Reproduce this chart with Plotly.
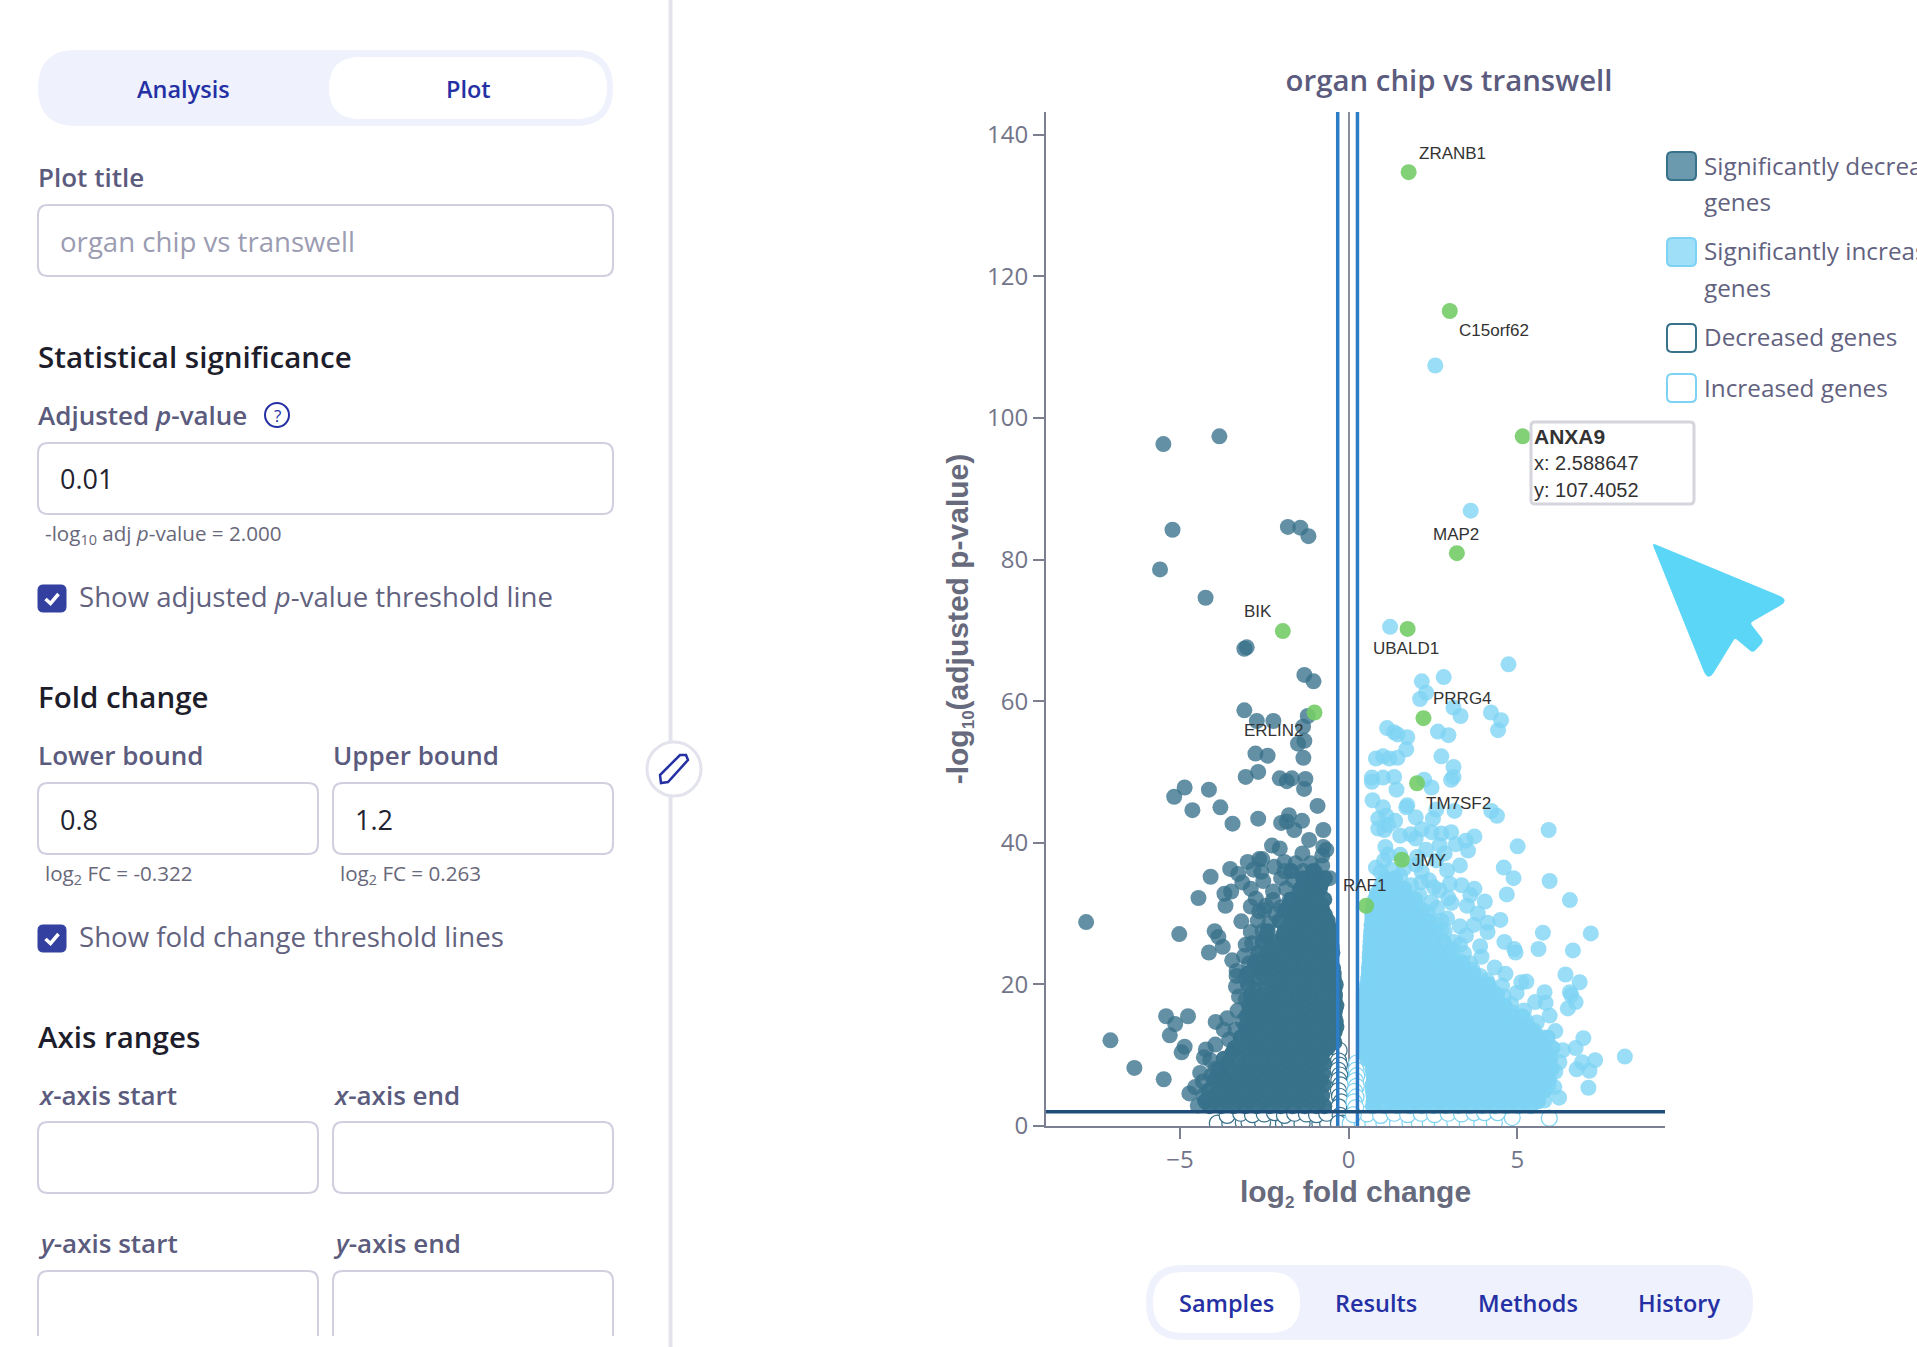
import plotly.graph_objects as go

W = 1917
H = 1347

# volcano values: (log2 fold change, -log10 adj p)
sig_down_sparse = [
    (-5.49,96.3),(-3.83,97.4),(-5.22,84.2),(-1.80,84.6),(-1.43,84.5),(-1.19,83.3),(-5.59,78.6),(-4.24,74.6),
    (-3.09,67.4),(-3.02,67.6),(-1.31,63.7),(-1.04,62.8),(-3.09,58.7),(-2.72,57.2),(-2.23,57.2),(-1.21,57.9),
    (-1.35,56.4),(-1.50,54.0),(-1.31,54.4),(-2.76,52.6),(-2.40,52.3),(-1.34,52.0),(-3.05,49.3),(-2.68,50.0),
    (-2.04,49.1),(-1.83,48.7),(-1.68,49.1),(-1.28,49.0),(-1.32,47.6),(-4.86,47.8),(-5.17,46.5),(-4.14,47.5),
    (-4.63,44.6),(-3.80,45.0),(-3.44,42.7),(-2.68,43.4),(-1.77,43.9),(-2.00,42.8),(-1.83,43.0),(-1.38,43.1),
    (-0.92,45.2),(-1.61,41.8),(-0.75,41.8),(-1.17,40.4),(-2.27,39.6),(-2.04,39.2),(-0.75,39.4),(-0.66,39.0),
    (-0.78,38.2),(-1.37,38.5),(-3.51,36.3),(-2.99,37.3),(-2.65,37.7),(-2.56,37.7),(-1.90,37.3),(-1.57,37.1),
    (-1.12,37.1),(-0.78,36.8),(-4.09,35.2),(-3.27,35.6),(-3.15,34.4),(-2.82,36.2),(-2.59,35.9),(-2.53,34.6),
    (-1.64,34.7),(-1.21,34.4),(-0.78,34.7),(-0.56,35.0),(-4.45,32.2),(-3.68,32.8),(-3.48,33.1),(-3.65,31.1),
    (-2.24,33.1),(-2.24,31.9),(-2.65,30.3),(-2.50,30.5),(-2.17,29.9),(-2.69,29.0),(-3.18,28.9),(-5.02,27.1),
    (-3.97,27.5),(-3.86,26.7),(-3.73,25.3),(-4.14,24.5),(-7.78,28.8),(-3.05,25.6),(-2.86,25.8),(-3.32,21.9),
    (-3.32,21.2),(-3.34,19.7),(-2.72,23.3),(-5.41,15.5),(-4.76,15.5),(-5.14,14.4),(-5.30,12.8),(-7.06,12.1),
    (-4.86,11.2),(-4.95,10.4),(-4.23,10.8),(-4.29,9.7),(-6.35,8.2),(-5.48,6.6),(-4.07,7.1),(-4.32,6.3),
    (-4.72,4.6),(-4.30,4.3),(-4.47,2.9),(-3.94,14.7),(-3.70,13.6),(-3.54,12.2),(-3.29,16.3),(-3.15,14.8),
    (-3.05,17.9),(-2.72,18.2),(-2.90,33.5),(-2.75,32.1),(-2.45,31.1),(-2.90,31.0),(-2.35,28.6),(-2.55,27.5),
    (-2.90,27.4),(-3.10,24.0),(-2.95,23.0),(-3.45,23.4),(-2.00,35.0),(-1.85,33.5),(-1.90,36.0),(-2.20,36.6),
    (-1.35,36.0),(-1.00,35.9),(-1.45,33.3),(-0.90,33.6),(-1.75,31.9),(-2.00,30.9),(-3.60,15.2),(-3.35,13.6),
    (-3.20,11.6),(-3.95,11.5),(-4.10,9.3),(-3.95,8.1),(-4.40,7.5),(-4.55,5.5),(-3.25,18.3),(-3.05,20.9),
]

# dense part of the left cloud, row by row: (y, x values)
sig_down_rows = [
    (2.8, [-4.12,-3.78,-3.41,-3.06,-2.72,-2.35,-2.01,-1.66,-1.30,-0.95,-0.72]),
    (3.5, [-4.25,-3.95,-3.60,-3.23,-2.88,-2.53,-2.18,-1.83,-1.48,-1.13,-0.88]),
    (4.3, [-3.98,-3.60,-3.24,-2.88,-2.52,-2.17,-1.82,-1.47,-1.12,-0.78]),
    (5.0, [-4.15,-3.80,-3.42,-3.05,-2.70,-2.35,-2.00,-1.65,-1.30,-0.95]),
    (5.8, [-3.86,-3.43,-3.07,-2.71,-2.36,-2.00,-1.64,-1.29,-0.93,-0.74]),
    (6.5, [-3.98,-3.62,-3.25,-2.90,-2.55,-2.20,-1.85,-1.50,-1.15,-0.82]),
    (7.3, [-3.72,-3.26,-2.90,-2.54,-2.18,-1.83,-1.47,-1.11,-0.76]),
    (8.0, [-3.85,-3.45,-3.08,-2.72,-2.36,-2.02,-1.67,-1.32,-0.98]),
    (8.8, [-3.60,-3.09,-2.73,-2.37,-2.01,-1.65,-1.30,-0.94,-0.73]),
    (9.5, [-3.70,-3.28,-2.90,-2.55,-2.18,-1.83,-1.48,-1.12,-0.80]),
    (10.3, [-3.45,-2.92,-2.56,-2.20,-1.84,-1.48,-1.12,-0.77]),
    (11.0, [-3.38,-3.10,-2.74,-2.38,-2.02,-1.66,-1.31,-0.96,-0.62]),
    (11.8, [-3.02,-2.74,-2.38,-2.02,-1.66,-1.30,-0.94,-0.60,-0.42]),
    (12.5, [-3.20,-2.90,-2.55,-2.20,-1.84,-1.48,-1.12,-0.76,-0.48]),
    (13.3, [-2.98,-2.57,-2.21,-1.85,-1.49,-1.13,-0.77,-0.41]),
    (14.0, [-3.05,-2.76,-2.40,-2.04,-1.68,-1.31,-0.95,-0.60,-0.36]),
    (14.8, [-2.93,-2.74,-2.38,-2.02,-1.66,-1.30,-0.94,-0.58,-0.38]),
    (15.5, [-3.02,-2.58,-2.20,-1.84,-1.48,-1.12,-0.76,-0.42]),
    (16.3, [-2.90,-2.56,-2.20,-1.84,-1.48,-1.12,-0.76,-0.40]),
    (17.0, [-2.95,-2.74,-2.38,-2.02,-1.66,-1.30,-0.94,-0.58,-0.36]),
    (17.8, [-2.84,-2.40,-2.03,-1.67,-1.30,-0.94,-0.58,-0.41]),
    (18.5, [-2.90,-2.56,-2.20,-1.84,-1.48,-1.12,-0.76,-0.40]),
    (19.3, [-2.78,-2.22,-1.85,-1.49,-1.13,-0.77,-0.42]),
    (20.0, [-2.98,-2.42,-2.02,-1.66,-1.30,-0.94,-0.60,-0.38]),
    (20.8, [-2.74,-2.40,-2.04,-1.67,-1.31,-0.95,-0.58,-0.44]),
    (21.5, [-3.00,-2.55,-2.22,-1.85,-1.48,-1.12,-0.76,-0.44]),
    (22.3, [-2.62,-2.22,-1.86,-1.49,-1.13,-0.77,-0.46]),
    (23.0, [-2.78,-2.42,-2.04,-1.68,-1.30,-0.95,-0.60]),
    (23.8, [-2.50,-2.05,-1.68,-1.31,-0.95,-0.60]),
    (24.5, [-2.68,-2.26,-1.86,-1.50,-1.14,-0.78,-0.48]),
    (25.3, [-2.30,-1.87,-1.50,-1.14,-0.78,-0.50]),
    (26.0, [-2.55,-2.10,-1.70,-1.32,-0.96,-0.60]),
    (26.8, [-2.45,-1.95,-1.68,-1.32,-0.96,-0.55]),
    (27.5, [-2.40,-1.90,-1.50,-1.14,-0.80,-0.55]),
    (28.3, [-1.76,-1.50,-1.14,-0.78,-0.60]),
    (29.0, [-2.05,-1.62,-1.28,-0.92,-0.62]),
    (29.8, [-1.72,-1.33,-0.97,-0.70]),
    (30.5, [-1.88,-1.50,-1.12,-0.78]),
    (31.3, [-1.50,-1.15,-0.80]),
    (32.0, [-1.70,-1.32,-0.98,-0.72]),
    (32.8, [-1.31,-0.96]),
    (33.5, [-1.42,-1.12,-0.85]),
    (34.3, [-1.10,-0.80]),
    (35.0, [-1.35,-0.95,-0.70]),
    (36.0, [-1.70,-1.05]),
]

sig_up_sparse = [
    (2.57,107.4),(3.62,86.9),(1.23,70.5),(2.17,62.8),(2.82,63.4),(2.30,61.2),(2.12,60.3),(4.74,65.2),
    (3.11,59.1),(3.32,57.9),(4.22,58.4),(4.52,57.3),(4.43,55.9),(1.14,56.2),(1.35,55.6),(1.45,55.3),
    (1.74,54.9),(1.71,53.2),(2.65,55.7),(2.96,55.2),(2.75,52.2),(3.11,50.7),(3.11,49.3),(3.04,48.9),
    (0.81,51.9),(1.02,52.2),(1.21,51.9),(1.45,52.0),(0.69,49.2),(0.69,48.6),(1.02,49.2),(1.35,49.3),
    (1.42,47.5),(2.24,48.9),(2.46,47.8),(0.71,46.0),(1.02,45.0),(1.71,45.0),(1.74,45.3),(1.99,43.6),
    (2.50,43.4),(2.60,44.7),(3.14,44.5),(4.23,44.5),(4.40,43.8),(0.88,43.4),(1.12,43.8),(1.38,43.1),
    (1.17,42.5),(0.88,42.0),(1.06,41.8),(2.17,41.9),(2.46,41.5),(2.75,41.3),(3.04,41.5),(1.53,41.0),
    (1.84,41.2),(1.99,40.6),(3.18,39.8),(3.47,40.3),(3.73,40.9),(3.54,38.9),(5.01,39.5),(5.93,41.8),
    (1.09,39.4),(1.17,38.3),(1.53,38.3),(2.03,38.0),(0.81,36.5),(0.95,35.9),(1.53,35.3),(2.17,35.9),
    (2.39,34.7),(2.53,33.7),(2.92,36.1),(4.60,36.5),(4.89,35.0),(5.96,34.6),(4.69,32.7),(3.73,33.5),
    (3.61,32.6),(3.51,31.1),(4.04,31.7),(3.83,30.0),(2.96,32.2),(2.10,32.6),(6.56,31.9),(3.71,28.4),
    (4.50,29.1),(4.12,28.7),(4.12,27.4),(5.76,27.3),(7.18,27.2),(4.62,26.0),(4.91,25.0),(4.95,24.5),
    (5.63,25.0),(6.65,24.8),(3.90,25.4),(3.94,23.9),(6.43,21.4),(6.85,20.3),(6.56,18.9),(6.60,18.5),
    (6.73,17.5),(6.50,16.6),(5.81,18.9),(5.53,17.5),(5.84,17.4),(5.96,15.6),(5.27,20.4),(5.12,20.3),
    (4.98,18.8),(4.65,21.5),(4.33,22.4),(3.68,22.1),(4.26,19.1),(6.96,12.4),(6.73,11.0),(6.13,13.4),
    (6.35,10.7),(6.92,9.0),(7.31,9.3),(6.76,8.0),(7.14,7.8),(7.11,5.4),(8.19,9.8),(6.24,4.0),
    (5.93,5.6),(6.13,7.7),(2.62,30.8),(2.92,29.3),(3.30,28.2),(2.75,27.6),(3.12,26.0),(3.42,24.4),
    (2.58,25.4),(4.55,19.8),(4.82,17.2),(5.20,16.3),(5.58,14.6),(3.05,31.5),(2.35,30.1),(3.48,26.9),
    (2.30,28.0),(2.55,28.6),(2.85,27.5),(3.05,24.9),(3.30,23.3),(3.60,23.0),(3.30,25.6),(2.75,29.0),
    (2.45,31.6),(2.70,33.3),(1.85,34.0),(1.65,36.4),(1.25,36.2),(2.15,34.4),(3.90,21.2),(4.10,20.6),
    (3.75,20.0),(4.35,18.4),(4.60,18.3),(4.85,16.0),(5.25,14.9),(5.50,13.5),(5.75,12.5),(6.25,9.0),
    (6.10,5.5),(5.80,3.6),(1.05,37.5),(2.00,36.9),(2.85,38.5),(2.60,37.5),(3.30,36.8),(3.00,34.2),
    (3.35,34.0),(2.30,39.0),(2.70,39.7),
]

# dense part of the right cloud, row by row: (y, x values)
sig_up_rows = [
    (2.8, [0.72,1.08,1.44,1.81,2.17,2.52,2.88,3.25,3.60,3.96,4.33,4.68,5.04,5.40]),
    (3.5, [0.74,1.25,1.62,1.98,2.35,2.70,3.06,3.42,3.78,4.15,4.50,4.86,5.22,5.62]),
    (4.3, [0.74,0.90,1.26,1.62,1.98,2.35,2.70,3.06,3.42,3.78,4.14,4.50,4.86,5.22,5.60]),
    (5.0, [0.72,1.08,1.44,1.80,2.16,2.52,2.88,3.24,3.60,3.96,4.32,4.68,5.04,5.42,5.82]),
    (5.8, [0.71,1.08,1.44,1.80,2.16,2.52,2.88,3.24,3.60,3.96,4.32,4.68,5.05,5.40,5.72]),
    (6.5, [0.75,1.26,1.62,1.98,2.34,2.70,3.06,3.42,3.78,4.14,4.50,4.86,5.22,5.58,5.94]),
    (7.3, [0.73,0.90,1.26,1.62,1.98,2.34,2.70,3.07,3.42,3.78,4.14,4.50,4.86,5.22,5.58,5.88]),
    (8.0, [0.71,1.08,1.44,1.80,2.16,2.52,2.88,3.24,3.60,3.96,4.32,4.68,5.04,5.40,5.76,6.02]),
    (8.8, [0.72,1.08,1.44,1.80,2.16,2.52,2.88,3.24,3.60,3.96,4.32,4.68,5.04,5.40,5.76,5.96]),
    (9.5, [0.55,0.88,1.26,1.62,1.98,2.34,2.70,3.06,3.42,3.78,4.14,4.50,4.86,5.22,5.58,5.98]),
    (10.3, [0.50,0.90,1.26,1.62,1.98,2.34,2.70,3.06,3.42,3.78,4.14,4.50,4.86,5.22,5.58,5.90]),
    (11.0, [0.46,0.72,1.08,1.44,1.80,2.16,2.52,2.88,3.24,3.60,3.96,4.32,4.68,5.04,5.40,5.76,6.05]),
    (11.8, [0.48,0.72,1.08,1.44,1.80,2.16,2.52,2.88,3.24,3.60,3.96,4.32,4.68,5.04,5.40,5.76]),
    (12.5, [0.50,0.90,1.26,1.62,1.98,2.34,2.70,3.06,3.42,3.78,4.14,4.50,4.86,5.22,5.60,5.90]),
    (13.3, [0.47,0.90,1.26,1.62,1.98,2.34,2.70,3.06,3.42,3.78,4.14,4.50,4.86,5.20,5.46]),
    (14.0, [0.47,0.72,1.08,1.44,1.80,2.16,2.52,2.88,3.24,3.60,3.96,4.32,4.68,5.04,5.32]),
    (14.8, [0.49,0.72,1.08,1.44,1.80,2.16,2.52,2.88,3.24,3.60,3.96,4.32,4.68,4.92]),
    (15.5, [0.50,0.90,1.26,1.62,1.98,2.34,2.70,3.06,3.42,3.78,4.14,4.50,4.86,5.15]),
    (16.3, [0.50,0.90,1.26,1.62,1.98,2.34,2.70,3.06,3.42,3.78,4.14,4.42]),
    (17.0, [0.52,0.72,1.08,1.44,1.80,2.16,2.52,2.88,3.24,3.60,3.96,4.30,4.62]),
    (17.8, [0.52,0.72,1.08,1.44,1.80,2.16,2.52,2.88,3.24,3.60,3.96,4.18]),
    (18.5, [0.53,0.90,1.26,1.62,1.98,2.34,2.70,3.06,3.42,3.78,4.12,4.40]),
    (19.3, [0.54,0.90,1.26,1.62,1.98,2.34,2.70,3.06,3.42,3.70]),
    (20.0, [0.55,0.72,1.08,1.44,1.80,2.16,2.52,2.88,3.24,3.60,3.92,4.15]),
    (20.8, [0.58,0.74,1.08,1.44,1.80,2.16,2.52,2.88,3.24,3.48]),
    (21.5, [0.60,0.92,1.26,1.62,1.98,2.34,2.70,3.06,3.42,3.70]),
    (22.3, [0.60,0.92,1.26,1.62,1.98,2.34,2.68,2.92]),
    (23.0, [0.62,0.76,1.08,1.44,1.80,2.16,2.52,2.85,3.15,3.38]),
    (23.8, [0.62,0.76,1.08,1.44,1.80,2.16,2.48,2.60]),
    (24.5, [0.63,0.94,1.26,1.62,1.98,2.34,2.68,2.95]),
    (25.3, [0.64,0.94,1.26,1.62,1.98,2.28]),
    (26.0, [0.65,0.78,1.08,1.44,1.80,2.16,2.50,2.82]),
    (26.8, [0.66,0.78,1.08,1.44,1.80,2.10,2.22]),
    (27.5, [0.67,0.96,1.26,1.62,1.98,2.32,2.60]),
    (28.3, [0.68,0.96,1.26,1.62,1.92,2.08]),
    (29.0, [0.70,0.80,1.08,1.44,1.80,2.10,2.35]),
    (29.8, [0.70,0.80,1.08,1.44,1.74,1.96]),
    (30.5, [0.72,0.98,1.26,1.62,1.92,2.18]),
    (31.3, [0.74,0.98,1.26,1.58,1.82]),
    (32.0, [0.78,1.08,1.44,1.72,1.98]),
    (32.8, [0.84,1.10,1.40,1.62]),
    (33.5, [0.92,1.22,1.50,1.66]),
    (34.3, [1.00,1.28]),
    (35.0, [1.10,1.38]),
]

# not significant, white circles
nonsig_down = [
    (-3.89,0.4),(-3.52,0.4),(-3.12,0.5),(-2.68,0.4),(-2.43,0.4),(-2.18,0.5),(-1.93,0.4),(-1.54,0.4),(-1.20,0.5),
    (-1.05,0.4),(-0.85,0.4),(-0.62,0.4),(-2.95,0.5),(-2.55,0.5),(-1.75,0.5),(-1.38,0.4),
    (-3.60,1.5),(-3.20,1.8),(-2.85,1.6),(-2.50,1.7),(-2.20,1.9),(-1.90,1.5),
    (-1.60,1.8),(-1.25,1.7),(-0.95,1.6),(-0.65,1.8),
    (-0.28,10.7),(-0.30,9.2),(-0.27,8.6),(-0.31,7.9),(-0.26,7.2),(-0.29,6.5),(-0.24,5.8),(-0.30,5.0),(-0.27,4.2),
    (-0.22,3.4),(-0.29,2.7),(-0.25,1.5),(-0.18,0.4),(-0.30,0.4),
]
nonsig_up = [
    (0.05,0.4),(0.40,0.5),(0.72,0.4),(1.05,0.4),(1.45,0.4),(1.82,0.5),(2.10,0.4),(2.42,0.4),(2.78,0.4),(3.15,0.5),
    (3.52,0.4),(3.95,0.4),(4.32,0.5),(4.85,1.2),(5.95,1.1),(0.55,1.7),(0.95,1.5),(1.35,1.8),(1.75,1.6),(2.15,1.8),
    (2.55,1.6),(2.95,1.8),(3.35,1.7),(3.72,1.9),(4.03,1.9),(4.42,1.9),
    (0.24,8.9),(0.22,7.9),(0.24,7.1),(0.20,6.4),(0.23,5.6),(0.18,4.9),(0.22,4.1),(0.16,3.4),(0.21,2.6),(0.14,1.6),
]

gene_names = ["ZRANB1","C15orf62","ANXA9","MAP2","BIK","UBALD1","PRRG4","ERLIN2","TM7SF2","JMY","RAF1"]
gene_x = [1.78,3.00,5.16,3.21,-1.95,1.75,2.22,-1.01,2.03,1.58,0.52]
gene_y = [134.7,115.1,97.4,80.9,69.9,70.2,57.6,58.4,48.4,37.6,31.1]

label_names = ["ZRANB1","C15orf62","MAP2","BIK","UBALD1","PRRG4","ERLIN2","TM7SF2","JMY","RAF1"]
label_x = [3.08,4.32,3.19,-2.68,1.71,3.37,-2.21,3.27,2.39,0.47]
label_y = [137.4,112.4,83.6,72.7,67.5,60.4,55.8,45.6,37.5,33.9]

x_ticks = [-5,0,5]
y_ticks = [0,20,40,60,80,100,120,140]
fc_lower = -0.322
fc_upper = 0.263
p_line = 2.0

DARK = "#37718a"
LIGHT = "#7dd3f3"
GREEN = "#74cc68"
NAVY = "#1f4f78"
BLUE = "#2c7cc6"
INDIGO = "#2430a4"
LABEL = "#5b5b7e"
BORDER = "#cfcfe0"
PANEL = "#eff2fd"
UI_FONT = "Open Sans"
PLOT_FONT = "Liberation Sans"


def split(points, rows=()):
    xs = [p[0] for p in points]
    ys = [p[1] for p in points]
    for y, row in rows:
        xs += row
        ys += [y]*len(row)
    return xs, ys


def px(v):
    return v/W


def py(v):
    return 1-v/H


def rounded(x0, y0, x1, y1, r):
    return ("M %f %f L %f %f Q %f %f %f %f L %f %f Q %f %f %f %f L %f %f Q %f %f %f %f L %f %f Q %f %f %f %f Z" % (
        px(x0+r), py(y0), px(x1-r), py(y0), px(x1), py(y0), px(x1), py(y0+r),
        px(x1), py(y1-r), px(x1), py(y1), px(x1-r), py(y1),
        px(x0+r), py(y1), px(x0), py(y1), px(x0), py(y1-r),
        px(x0), py(y0+r), px(x0), py(y0), px(x0+r), py(y0)))


def poly(points, close=True):
    s = "M " + " L ".join("%f %f" % (px(a), py(b)) for a, b in points)
    return s + (" Z" if close else "")


def soft_poly(points, radii):
    # polygon with each corner eased by a quadratic curve
    parts = []
    n = len(points)
    for i in range(n):
        x0, y0 = points[i-1]
        x1, y1 = points[i]
        x2, y2 = points[(i+1) % n]
        r = radii[i]
        d0 = ((x1-x0)**2+(y1-y0)**2)**0.5
        d2 = ((x2-x1)**2+(y2-y1)**2)**0.5
        a = (x1+(x0-x1)*r/d0, y1+(y0-y1)*r/d0)
        b = (x1+(x2-x1)*r/d2, y1+(y2-y1)*r/d2)
        parts.append("%s %f %f Q %f %f %f %f" % ("M" if i == 0 else "L", px(a[0]), py(a[1]),
                                                 px(x1), py(y1), px(b[0]), py(b[1])))
    return " ".join(parts) + " Z"


shapes = []
annots = []


def box(x0, y0, x1, y1, r, fill="white", line=BORDER, width=2):
    shapes.append(dict(type="path", xref="paper", yref="paper", path=rounded(x0, y0, x1, y1, r),
                       fillcolor=fill, line=dict(color=line, width=width)))


def text(x, y, s, size=26, color=LABEL, weight=None, anchor="left", family=UI_FONT):
    annots.append(dict(xref="paper", yref="paper", x=px(x), y=py(y), text=s, showarrow=False,
                       xanchor=anchor, yanchor="middle", align="left", borderpad=0,
                       font=dict(family=family, size=size, color=color, weight=weight)))


def checkbox(y0, y1):
    box(38, y0, 66, y1, 5, fill="#3340a0", line="#3340a0", width=1)
    shapes.append(dict(type="path", xref="paper", yref="paper",
                       path=poly([(45.5, y0+14), (50.5, y0+18.5), (58.5, y0+9)], close=False),
                       line=dict(color="white", width=3.5)))


# left form
box(38, 50, 613, 126, 38, fill=PANEL, line=PANEL, width=0)
box(329, 57, 607, 119, 31, line="white", width=0)
text(183, 89, "Analysis", size=23.5, color=INDIGO, anchor="center", weight=600)
text(468, 89, "Plot", size=23.5, color=INDIGO, anchor="center", weight=600)

text(37, 177, "Plot title", weight=600)
box(38, 205, 613, 276, 10)
text(59, 241, "organ chip vs transwell", size=27.6, color="#9b9cb2")

text(37, 356, "Statistical significance", size=29.5, color="#1d1d2b", weight=600)
text(37, 415, "Adjusted <i>p</i>-value", weight=600)
shapes.append(dict(type="circle", xref="paper", yref="paper", x0=px(265), x1=px(289), y0=py(427), y1=py(403),
                   line=dict(color=INDIGO, width=2)))
text(277, 415, "?", size=17, color=INDIGO, anchor="center")
box(38, 443, 613, 514, 10)
text(59, 479, "0.01", size=27, color="#222230")
text(44, 534, "-log<sub>10</sub> adj <i>p</i>-value = 2.000", size=20.6, color="#68687a")
checkbox(585, 612)
text(78, 596, "Show adjusted <i>p</i>-value threshold line", size=27.6, color="#62627f")

text(37, 696, "Fold change", size=29.5, color="#1d1d2b", weight=600)
text(37, 755, "Lower bound", weight=600)
text(332, 755, "Upper bound", weight=600)
box(38, 783, 318, 854, 10)
box(333, 783, 613, 854, 10)
text(59, 819, "0.8", size=27, color="#222230")
text(354, 819, "1.2", size=27, color="#222230")
text(44, 874, "log<sub>2</sub> FC = -0.322", size=20.6, color="#68687a")
text(339, 874, "log<sub>2</sub> FC = 0.263", size=20.6, color="#68687a")
checkbox(925, 952)
text(78, 936, "Show fold change threshold lines", size=27.6, color="#62627f")

text(37, 1036, "Axis ranges", size=29.5, color="#1d1d2b", weight=600)
text(37, 1095, "<i>x</i>-axis start", weight=600)
text(332, 1095, "<i>x</i>-axis end", weight=600)
box(38, 1122, 318, 1193, 10)
box(333, 1122, 613, 1193, 10)
text(37, 1243, "<i>y</i>-axis start", weight=600)
text(332, 1243, "<i>y</i>-axis end", weight=600)
box(38, 1271, 318, 1400, 10)
box(333, 1271, 613, 1400, 10)
shapes.append(dict(type="rect", xref="paper", yref="paper", x0=px(30), x1=px(640), y0=py(1336), y1=0,
                   fillcolor="white", line=dict(width=0)))

# divider and pencil button
shapes.append(dict(type="line", xref="paper", yref="paper", x0=px(670.5), x1=px(670.5), y0=0, y1=1,
                   line=dict(color="#e3e3ee", width=4)))
shapes.append(dict(type="circle", xref="paper", yref="paper", x0=px(647), x1=px(701), y0=py(796), y1=py(742),
                   fillcolor="white", line=dict(color="#e3e3ee", width=3)))
shapes.append(dict(type="path", xref="paper", yref="paper",
                   path=poly([(661, 783), (660, 775), (680, 755), (686, 755), (688, 760), (668, 782)]),
                   line=dict(color=INDIGO, width=2.5), fillcolor="white"))

# legend drawn by hand, the text runs off the page like the reference
for y0, fill, edge in [(152, "#6b9aae", DARK), (238, "#9fdff8", LIGHT), (324, "white", DARK), (374, "white", LIGHT)]:
    box(1667, y0, 1696, y0+28, 5, fill=fill, line=edge)
text(1703, 166, "Significantly decreased", size=24.3, color="#62627f")
text(1703, 201, "genes", size=24.3, color="#62627f")
text(1703, 251, "Significantly increased", size=24.3, color="#62627f")
text(1703, 287, "genes", size=24.3, color="#62627f")
text(1703, 337, "Decreased genes", size=24.3, color="#62627f")
text(1703, 387, "Increased genes", size=24.3, color="#62627f")

# tooltip
box(1531, 422, 1694, 504, 4, line="#d5d5dd", width=3)
text(1533, 437, "<b>ANXA9</b>", size=21, color="#333333", family=PLOT_FONT)
text(1533, 463, "x: 2.588647", size=20, color="#333333", family=PLOT_FONT)
text(1533, 490, "y: 107.4052", size=20, color="#333333", family=PLOT_FONT)

# cursor
shapes.append(dict(type="path", xref="paper", yref="paper",
                   path=soft_poly([(1652, 543), (1790, 600), (1750, 623), (1764, 641), (1753, 653), (1735, 638), (1708, 682)],
                                  [4, 12, 3, 4, 4, 3, 12]),
                   fillcolor="#5bd6f7", line=dict(width=0)))

# bottom tabs
box(1146, 1265, 1753, 1340, 37, fill=PANEL, line=PANEL, width=0)
box(1153, 1272, 1300, 1333, 30, line="white", width=0)
for cx, name in [(1226, "Samples"), (1375.5, "Results"), (1527.5, "Methods"), (1678.5, "History")]:
    text(cx, 1303, name, size=23.5, color=INDIGO, anchor="center", weight=600)

# gene labels in data coordinates
for name, lx, ly in zip(label_names, label_x, label_y):
    annots.append(dict(xref="x", yref="y", x=lx, y=ly, text=name, showarrow=False,
                       font=dict(family=PLOT_FONT, size=17, color="#333333")))

# threshold lines
for v in [fc_lower, fc_upper]:
    shapes.append(dict(type="line", xref="x", yref="y domain", x0=v, x1=v, y0=0, y1=1,
                       line=dict(color=BLUE, width=3.5)))
shapes.append(dict(type="line", xref="x domain", yref="y", x0=0, x1=1, y0=p_line, y1=p_line,
                   line=dict(color=NAVY, width=3.5)))

fig = go.Figure()

x, y = split(nonsig_down)
fig.add_trace(go.Scatter(x=x, y=y, mode="markers", name="Decreased genes",
                         marker=dict(size=16, color="white", line=dict(color=DARK, width=1.2))))
x, y = split(nonsig_up)
fig.add_trace(go.Scatter(x=x, y=y, mode="markers", name="Increased genes",
                         marker=dict(size=16, color="white", line=dict(color=LIGHT, width=1.2))))
x, y = split([], sig_down_rows)
fig.add_trace(go.Scatter(x=x, y=y, mode="markers", name="Significantly decreased genes",
                         marker=dict(size=16, color=DARK, opacity=0.95, line=dict(width=0))))
x, y = split(sig_down_sparse)
fig.add_trace(go.Scatter(x=x, y=y, mode="markers", name="Significantly decreased genes",
                         marker=dict(size=16, color=DARK, opacity=0.78, line=dict(width=0))))
x, y = split([], sig_up_rows)
fig.add_trace(go.Scatter(x=x, y=y, mode="markers", name="Significantly increased genes",
                         marker=dict(size=16, color=LIGHT, opacity=0.95, line=dict(width=0))))
x, y = split(sig_up_sparse)
fig.add_trace(go.Scatter(x=x, y=y, mode="markers", name="Significantly increased genes",
                         marker=dict(size=16, color=LIGHT, opacity=0.78, line=dict(width=0))))
fig.add_trace(go.Scatter(x=gene_x, y=gene_y, mode="markers", name="genes", hovertext=gene_names,
                         marker=dict(size=16, color=GREEN, opacity=0.9, line=dict(width=0))))

fig.update_layout(
    width=W, height=H, margin=dict(l=0, r=0, t=0, b=0), showlegend=False,
    paper_bgcolor="white", plot_bgcolor="white",
    title=dict(text="organ chip vs transwell", x=px(1449), xanchor="center", y=py(81), yanchor="middle",
               font=dict(family=UI_FONT, size=29.4, color=LABEL, weight=600)),
    shapes=shapes, annotations=annots,
)
fig.update_xaxes(domain=[px(1046), px(1665)], range=[-8.97, 9.38], tickvals=x_ticks, ticks="outside", ticklen=11,
                 tickwidth=2, tickcolor="#7b7f90", showline=True, linecolor="#7b7f90", linewidth=2, showgrid=False,
                 zeroline=True, zerolinecolor="#8a8d9c", zerolinewidth=2, automargin=False,
                 tickfont=dict(family=UI_FONT, size=24, color="#72758a"),
                 title=dict(text='<b>log<sub><span style="font-size:17px">2</span></sub> fold change</b>', standoff=1,
                            font=dict(family=PLOT_FONT, size=30, color="#666a7c")))
fig.update_yaxes(domain=[py(1126), py(112)], range=[0, 143.2], tickvals=y_ticks, ticks="outside", ticklen=11,
                 tickwidth=2, tickcolor="#7b7f90", showline=True, linecolor="#7b7f90", linewidth=2, showgrid=False,
                 zeroline=False, automargin=False, tickfont=dict(family=UI_FONT, size=24, color="#72758a"),
                 title=dict(text='<b>-log<sub><span style="font-size:17px">10</span></sub>(adjusted p-value)</b>', standoff=10,
                            font=dict(family=PLOT_FONT, size=30, color="#666a7c")))

fig.write_html("out.html", config=dict(displayModeBar=False),
               post_script="document.body.style.margin='0';document.body.style.overflow='hidden';")
